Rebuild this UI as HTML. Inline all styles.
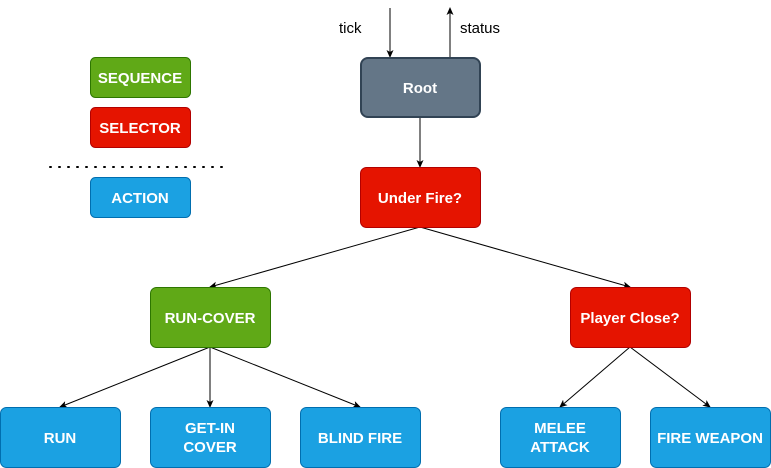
<!DOCTYPE html>
<html><head><style>body{margin:0;background:#fff}svg{display:block}text{font-family:"Liberation Sans",sans-serif;font-size:15px}</style></head>
<body>
<svg width="771" height="468" viewBox="0 0 771 468" xmlns="http://www.w3.org/2000/svg">
<defs><marker id="a" markerWidth="8" markerHeight="8" refX="7" refY="4" orient="auto" markerUnits="userSpaceOnUse"><path d="M0,0.5 L8,4 L0,7.5 L2,4 Z" fill="#000"/></marker></defs>
<g stroke="#000" stroke-width="1" fill="none" marker-end="url(#a)">
<line x1="390" y1="8" x2="390" y2="57"/>
<line x1="450" y1="57" x2="450" y2="8"/>
<line x1="420" y1="117" x2="420" y2="167"/>
<line x1="420" y1="227" x2="210" y2="287"/>
<line x1="420" y1="227" x2="630" y2="287"/>
<line x1="210" y1="347" x2="60" y2="407"/>
<line x1="210" y1="347" x2="210" y2="407"/>
<line x1="210" y1="347" x2="360" y2="407"/>
<line x1="630" y1="347" x2="560" y2="407"/>
<line x1="630" y1="347" x2="710" y2="407"/>
</g>
<line x1="50" y1="167" x2="230" y2="167" stroke="#000" stroke-width="2" stroke-dasharray="1 8" stroke-linecap="round"/>
<text x="339" y="33" font-size="15">tick</text>
<text x="460" y="33" font-size="15">status</text>
<g font-weight="bold" font-size="14" fill="#fff" text-anchor="middle">
<rect x="361" y="58" width="119" height="59" rx="7" fill="#647687" stroke="#314354" stroke-width="2"/>
<text x="420" y="93" fill="#fff">Root</text>
<rect x="90.5" y="57.5" width="100" height="40" rx="5" fill="#60a917" stroke="#2d7600"/>
<text x="140" y="83" fill="#fff">SEQUENCE</text>
<rect x="90.5" y="107.5" width="100" height="40" rx="5" fill="#e51400" stroke="#b20000"/>
<text x="140" y="133" fill="#fff">SELECTOR</text>
<rect x="90.5" y="177.5" width="100" height="40" rx="5" fill="#1ba1e2" stroke="#006eaf"/>
<text x="140" y="203" fill="#fff">ACTION</text>
<rect x="360.5" y="167.5" width="120" height="60" rx="6" fill="#e51400" stroke="#b20000"/>
<text x="420" y="203" fill="#fff">Under Fire?</text>
<rect x="150.5" y="287.5" width="120" height="60" rx="6" fill="#60a917" stroke="#2d7600"/>
<text x="210" y="323" fill="#fff">RUN-COVER</text>
<rect x="570.5" y="287.5" width="120" height="60" rx="6" fill="#e51400" stroke="#b20000"/>
<text x="630" y="323" fill="#fff">Player Close?</text>
<g fill="#1ba1e2" stroke="#006eaf">
<rect x="0.5" y="407.5" width="120" height="60" rx="6"/>
<rect x="150.5" y="407.5" width="120" height="60" rx="6"/>
<rect x="300.5" y="407.5" width="120" height="60" rx="6"/>
<rect x="500.5" y="407.5" width="120" height="60" rx="6"/>
<rect x="650.5" y="407.5" width="120" height="60" rx="6"/>
</g>
<text x="60" y="443" fill="#fff">RUN</text>
<text x="210" y="433" fill="#fff">GET-IN</text>
<text x="210" y="452" fill="#fff">COVER</text>
<text x="360" y="443" fill="#fff">BLIND FIRE</text>
<text x="560" y="433" fill="#fff">MELEE</text>
<text x="560" y="452" fill="#fff">ATTACK</text>
<text x="710" y="443" fill="#fff">FIRE WEAPON</text>
</g>
</svg>
</body></html>
